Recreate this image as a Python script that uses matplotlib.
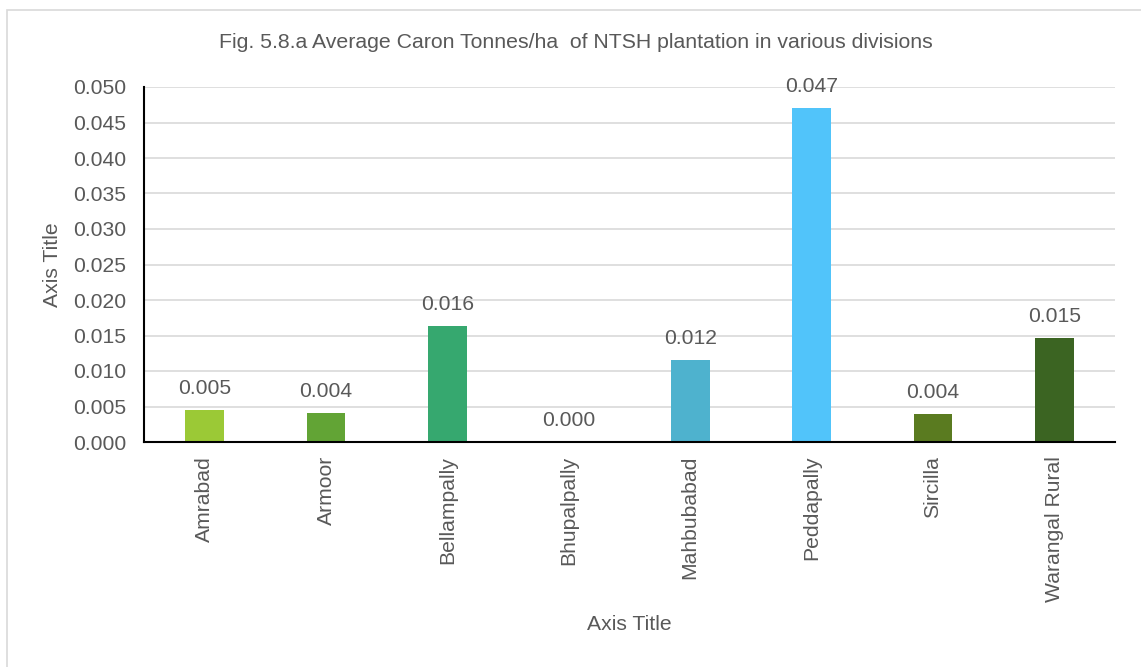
import matplotlib
matplotlib.use("Agg")
import matplotlib.pyplot as plt
from matplotlib.patches import Rectangle

categories = ["Amrabad", "Armoor", "Bellampally", "Bhupalpally", "Mahbubabad",
              "Peddapally", "Sircilla", "Warangal Rural"]
values = [0.0045, 0.0041, 0.0163, 0.0, 0.0116, 0.0470, 0.0039, 0.0147]
labels = ["0.005", "0.004", "0.016", "0.000", "0.012", "0.047", "0.004", "0.015"]
colors = ["#9BC936", "#62A435", "#36A86F", "#44C1A3", "#4EB2CE", "#51C4FA",
          "#5A7B20", "#3B6422"]
yticks = [0.000, 0.005, 0.010, 0.015, 0.020, 0.025, 0.030, 0.035, 0.040, 0.045, 0.050]
title = "Fig. 5.8.a Average Caron Tonnes/ha  of NTSH plantation in various divisions"

plt.rcParams['font.family'] = ['Liberation Sans', 'DejaVu Sans']
TXT = "#595959"
FS = 15.2

W, H = 1141, 667
fig = plt.figure(figsize=(W / 100, H / 100), dpi=100)
fig.patch.set_facecolor("white")

# outer chart border (cropped on right/bottom)
fig.patches.append(Rectangle((7 / W, 0 - 0.05), 1.1, 1 - 10 / H + 0.05,
                             transform=fig.transFigure, fill=False,
                             edgecolor="#d9d9d9", linewidth=1.2))

ax = fig.add_axes([144 / W, 1 - 442 / H, (1115 - 144) / W, (442 - 87) / H])
x = list(range(len(categories)))
ax.bar(x, values, width=0.32, color=colors, zorder=3)
ax.set_xlim(-0.5, len(categories) - 0.5)
ax.set_ylim(0, 0.05)
ax.set_yticks(yticks)
ax.set_yticklabels([f"{t:.3f}" for t in yticks])
ax.set_xticks(x)
ax.set_xticklabels(categories, rotation=90)
ax.tick_params(axis='both', length=0, labelsize=FS, labelcolor=TXT)
ax.tick_params(axis='y', pad=13)
ax.tick_params(axis='x', pad=10)
ax.grid(axis='y', color="#d9d9d9", linewidth=1.2, zorder=0)
for s in ["top", "right"]:
    ax.spines[s].set_visible(False)
ax.spines["left"].set_color("black")
ax.spines["left"].set_linewidth(1.5)
ax.spines["bottom"].set_color("black")
ax.spines["bottom"].set_linewidth(1.5)
ax.spines["left"].set_zorder(4)
ax.spines["bottom"].set_zorder(4)

for xi, v, lab in zip(x, values, labels):
    ax.annotate(lab, (xi, v), xytext=(0, 11.5), textcoords="offset points",
                ha="center", va="baseline", fontsize=FS, color=TXT,
                annotation_clip=False)

fig.text(575.5 / W, 1 - 42 / H, title, ha="center", va="center",
         fontsize=FS * 1.01, color=TXT)
fig.text(629.5 / W, 1 - 624 / H, "Axis Title", ha="center", va="center",
         fontsize=FS, color=TXT)
fig.text(52 / W, 1 - 265 / H, "Axis Title", ha="center", va="center",
         rotation=90, fontsize=FS, color=TXT)

fig.savefig("out.png", dpi=100)
